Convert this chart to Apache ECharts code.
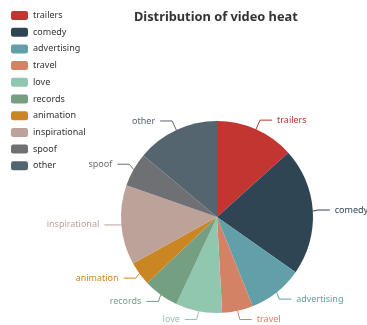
<!DOCTYPE html>
<html>
<head>
<meta charset="utf-8">
<script src="https://cdn.jsdelivr.net/npm/echarts@6/dist/echarts.min.js"></script>
<style>html,body{margin:0;padding:0;background:#fff;}#main{width:367px;height:325px;}</style>
</head>
<body>
<div id="main"></div>
<script>
var categories = ['trailers','comedy','advertising','travel','love','records','animation','inspirational','spoof','other'];
var values = [133, 214, 92, 52, 78, 60, 40, 134, 57, 139];
var colors = ['#c23531','#2f4554','#61a0a8','#d48265','#91c7ae','#749f83','#ca8622','#bda29a','#6e7074','#546570'];
var titleText = 'Distribution of video heat';

var chart = echarts.init(document.getElementById('main'));
var font = 'Noto Sans';
chart.setOption({
  animation: false,
  color: colors,
  title: {
    text: titleText,
    left: 129,
    top: 6,
    textStyle: { fontSize: 12.8, fontWeight: 'bold', color: '#333', fontFamily: font }
  },
  legend: {
    orient: 'vertical',
    left: 6,
    top: 6,
    itemWidth: 17,
    itemHeight: 9,
    itemGap: 7.7,
    icon: 'roundRect',
    data: categories,
    textStyle: { fontSize: 9, color: '#333', fontFamily: font }
  },
  series: [{
    type: 'pie',
    center: [217, 217],
    radius: 96,
    startAngle: 90,
    data: categories.map(function (c, i) { return { name: c, value: values[i] }; }),
    label: { fontSize: 9, fontFamily: font, color: 'inherit', overflow: 'none' },
    labelLine: { length: 10, length2: 12, lineStyle: { width: 1 } },
    itemStyle: { borderWidth: 0 }
  }]
});
</script>
</body>
</html>
